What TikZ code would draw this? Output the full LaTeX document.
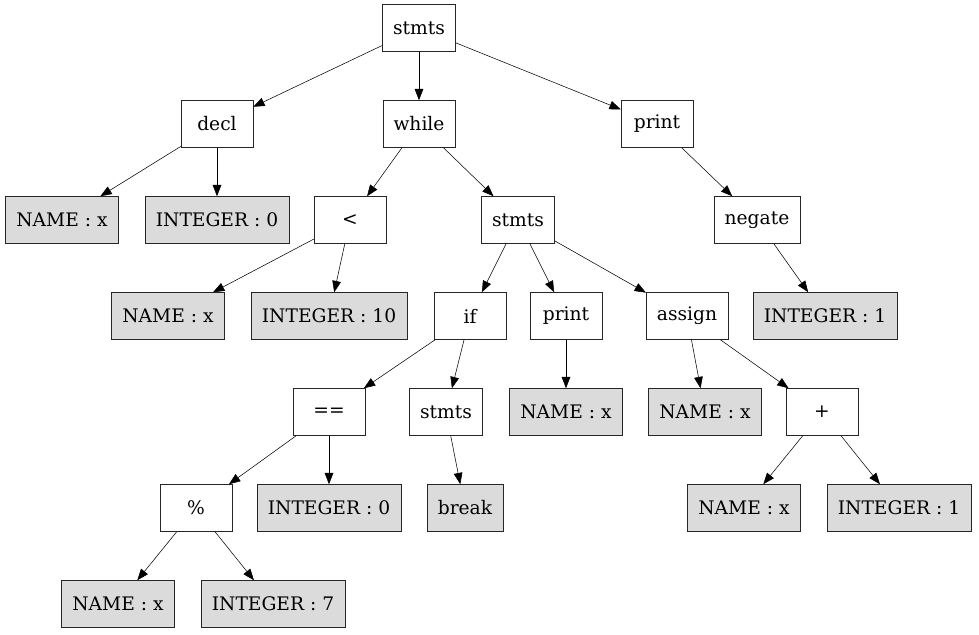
\documentclass[tikz,border=0pt]{standalone}
\usepackage{fontspec}
\setmainfont{DejaVu Serif}
\usetikzlibrary{arrows.meta}
\tikzset{>={Triangle[length=8.5pt,width=6.5pt]}}
\tikzset{
  ast/.style={draw=black!85,thin,minimum width=54pt,minimum height=35.25pt,
    inner xsep=8pt,font=\fontsize{14}{16}\selectfont},
  tok/.style={ast,fill=black!14},
  edge/.style={->,thin}
}

\begin{document}
\begin{tikzpicture}[x=0.75pt,y=-0.75pt]
    \useasboundingbox (0,0) rectangle (979,635);

    % level 0
    \node[ast] (root) at (419,28) {stmts};
    % level 1
    \node[ast] (decl) at (217,124) {decl};
    \node[ast] (whl) at (419,124) {while};
    \node[ast] (prt) at (657,124) {print};
    % level 2
    \node[tok] (declname) at (62,220) {NAME : x};
    \node[tok] (declint) at (217,220) {INTEGER : 0};
    \node[ast] (lt) at (350,220) {<};
    \node[ast] (body) at (518,220) {stmts};
    \node[ast] (neg) at (757,220) {negate};
    % level 3
    \node[tok] (ltname) at (168,316) {NAME : x};
    \node[tok] (ltint) at (329,316) {INTEGER : 10};
    \node[ast] (ifn) at (470,316) {if};
    \node[ast] (prt2) at (566,316) {print};
    \node[ast] (asg) at (687,316) {assign};
    \node[tok] (negint) at (825,316) {INTEGER : 1};
    % level 4
    \node[ast] (eq) at (329,412) {==};
    \node[ast] (ifbody) at (446,412) {stmts};
    \node[tok] (prtname) at (566,412) {NAME : x};
    \node[tok] (asgname) at (705,412) {NAME : x};
    \node[ast] (plus) at (822,412) {+};
    % level 5
    \node[ast] (mod) at (196,508) {\%};
    \node[tok] (eqint) at (329,508) {INTEGER : 0};
    \node[tok] (brk) at (465,508) {break};
    \node[tok] (plusname) at (744,508) {NAME : x};
    \node[tok] (plusint) at (899,508) {INTEGER : 1};
    % level 6
    \node[tok] (modname) at (118,604) {NAME : x};
    \node[tok] (modint) at (273,604) {INTEGER : 7};

    \draw[edge] (root) -- (decl);
    \draw[edge] (root) -- (whl);
    \draw[edge] (root) -- (prt);
    \draw[edge] (decl) -- (declname);
    \draw[edge] (decl) -- (declint);
    \draw[edge] (whl) -- (lt);
    \draw[edge] (whl) -- (body);
    \draw[edge] (prt) -- (neg);
    \draw[edge] (lt) -- (ltname);
    \draw[edge] (lt) -- (ltint);
    \draw[edge] (body) -- (ifn);
    \draw[edge] (body) -- (prt2);
    \draw[edge] (body) -- (asg);
    \draw[edge] (neg) -- (negint);
    \draw[edge] (ifn) -- (eq);
    \draw[edge] (ifn) -- (ifbody);
    \draw[edge] (prt2) -- (prtname);
    \draw[edge] (asg) -- (asgname);
    \draw[edge] (asg) -- (plus);
    \draw[edge] (eq) -- (mod);
    \draw[edge] (eq) -- (eqint);
    \draw[edge] (ifbody) -- (brk);
    \draw[edge] (plus) -- (plusname);
    \draw[edge] (plus) -- (plusint);
    \draw[edge] (mod) -- (modname);
    \draw[edge] (mod) -- (modint);
\end{tikzpicture}
\end{document}
